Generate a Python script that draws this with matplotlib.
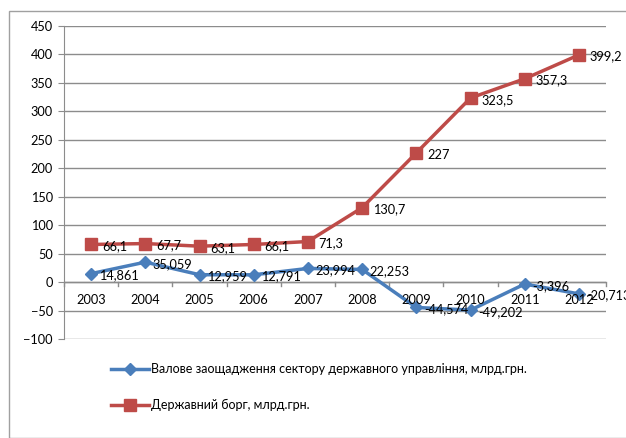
import matplotlib
matplotlib.use("Agg")
import matplotlib.pyplot as plt
from matplotlib.lines import Line2D
from matplotlib.patches import Rectangle

plt.rcParams['font.family'] = ['Lato', 'DejaVu Sans']

years = ['2003', '2004', '2005', '2006', '2007', '2008', '2009', '2010', '2011', '2012']
savings = [14.861, 35.059, 12.959, 12.791, 23.994, 22.253, -44.574, -49.202, -3.396, -20.713]
savings_labels = ['14,861', '35,059', '12,959', '12,791', '23,994', '22,253',
                  '-44,574', '-49,202', '-3,396', '-20,713']
debt = [66.1, 67.7, 63.1, 66.1, 71.3, 130.7, 227, 323.5, 357.3, 399.2]
debt_labels = ['66,1', '67,7', '63,1', '66,1', '71,3', '130,7', '227', '323,5', '357,3', '399,2']

blue = '#4a7ebb'
red = '#be4b48'

W, H = 626, 438
fig = plt.figure(figsize=(W / 100, H / 100), dpi=100)
# chart border
fig.patches.append(Rectangle((9 / W, 0), 1, 1 - 11 / H, transform=fig.transFigure,
                             fill=False, edgecolor='#a0a0a0', lw=1))

ax = fig.add_axes([64 / W, 1 - 339 / H, (606 - 64) / W, (339 - 26) / H])
x = list(range(len(years)))

ax.plot(x, savings, color=blue, lw=2.5, marker='D', markersize=6.5, zorder=3)
ax.plot(x, debt, color=red, lw=2.5, marker='s', markersize=8, zorder=3)

for xi, v, t in zip(x, savings, savings_labels):
    ax.text(xi + 0.14, v - 3, t, fontsize=9.2, va='center', ha='left', zorder=4)
for xi, v, t in zip(x, debt, debt_labels):
    ax.text(xi + 0.2, v - 3, t, fontsize=9.2, va='center', ha='left', zorder=4)

ax.set_xlim(-0.5, len(years) - 0.5)
ax.set_ylim(-100, 450)
ax.set_yticks(range(-100, 451, 50))
ax.yaxis.grid(True, color='#8c8c8c', lw=1)
ax.set_axisbelow(True)
for s in ['top', 'right', 'bottom']:
    ax.spines[s].set_visible(False)
ax.spines['left'].set_color('#8c8c8c')
ax.tick_params(axis='y', length=4, color='#8c8c8c', labelsize=9.2, pad=4)
ax.tick_params(axis='x', length=0)
ax.set_xticks([])

# category axis at zero with tick marks between categories
ax.axhline(0, color='#8c8c8c', lw=1, zorder=1)
for b in range(len(years) + 1):
    ax.plot([b - 0.5, b - 0.5], [0, -6], color='#8c8c8c', lw=1, zorder=1, clip_on=False)
for xi, y in zip(x, years):
    ax.text(xi, -32, y, fontsize=9.2, ha='center', va='center')

handles = [Line2D([], [], color=blue, lw=2.5, marker='D', markersize=6),
           Line2D([], [], color=red, lw=2.5, marker='s', markersize=8)]
fig.legend(handles, ['Валове заощадження сектору державного управління, млрд.грн.',
                     'Державний борг, млрд.грн.'],
           loc='upper left', bbox_to_anchor=(100 / W, 1 - 352 / H), frameon=False,
           fontsize=9, handlelength=3.0, handletextpad=0.15, labelspacing=1.9)

fig.savefig('out.png', dpi=100)
